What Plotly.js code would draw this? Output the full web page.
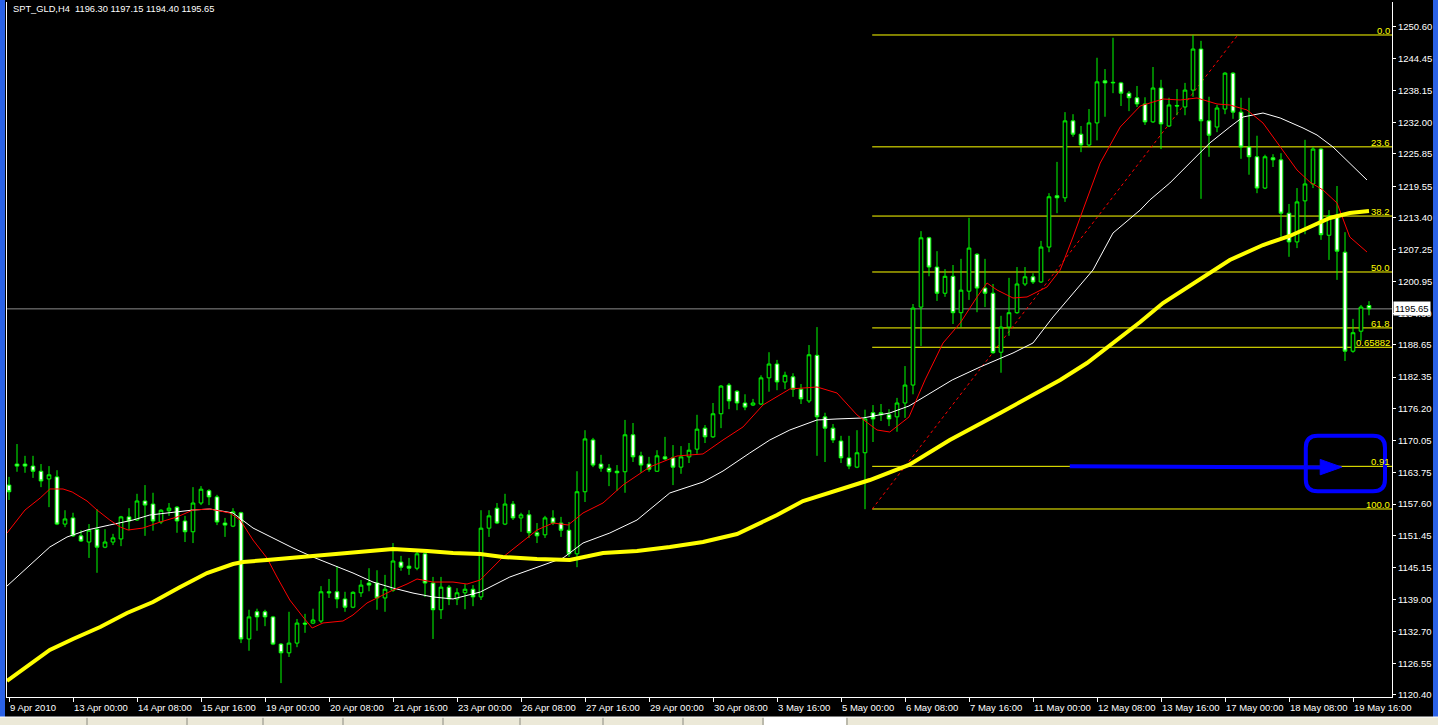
<!DOCTYPE html>
<html><head><meta charset="utf-8">
<script src="https://cdn.plot.ly/plotly-3.0.1.min.js"></script>
<style>html,body{margin:0;padding:0;background:#000;overflow:hidden}#chart{width:1438px;height:725px}</style>
</head><body><div id="chart"></div>
<script>
const headerText = "SPT_GLD,H4&nbsp;&nbsp;1196.30 1197.15 1194.40 1195.65";
const lastPrice = 1195.65;

const openP = [
1161.3,1165.4,1165.4,1165.0,1164.0,1162.5,1162.9,1153.7,1154.9,1151.4,
1150.2,1152.7,1149.2,1150.2,1150.8,1155.1,1154.5,1158.2,1157.6,1154.1,
1156.3,1157.0,1154.3,1152.2,1157.8,1160.2,1159.0,1153.9,1153.3,1155.9,
1131.3,1136.6,1136.6,1135.6,1130.3,1128.6,1130.5,1134.4,1134.4,1134.8,
1140.5,1140.5,1139.1,1137.5,1140.3,1142.2,1142.2,1139.3,1140.8,1146.3,
1145.5,1145.1,1147.9,1142.2,1137.0,1141.4,1139.1,1140.3,1141.0,1139.5,
1152.9,1156.8,1153.7,1157.6,1154.9,1155.5,1152.0,1151.6,1154.9,1153.9,
1152.5,1147.9,1160.0,1170.1,1165.4,1164.6,1164.0,1163.9,1171.1,1167.0,
1165.4,1164.0,1166.8,1166.6,1164.8,1166.8,1168.3,1172.4,1170.7,1175.2,
1180.8,1179.6,1177.3,1176.9,1177.1,1182.2,1184.9,1181.4,1182.4,1180.0,
1177.7,1186.6,1174.6,1172.4,1169.9,1166.6,1164.8,1167.6,1175.4,1175.4,
1175.0,1174.6,1177.3,1180.8,1196.0,1209.5,1203.8,1198.7,1202.0,1194.9,
1199.1,1206.3,1199.7,1198.7,1187.2,1192.1,1194.9,1200.5,1201.9,1200.9,
1207.7,1217.7,1217.3,1232.3,1229.7,1227.6,1231.9,1240.1,1239.7,1239.7,
1237.7,1236.8,1235.6,1232.1,1238.7,1231.3,1235.3,1235.0,1238.3,1246.3,
1232.3,1231.1,1234.6,1241.6,1234.0,1227.2,1225.3,1219.2,1225.1,1224.7,
1214.3,1208.7,1216.7,1220.0,1226.8,1210.0,1213.9,1206.7,1187.4,1191.3,
1196.30];
const highP = [
1162.9,1169.3,1167.0,1167.0,1165.4,1165.0,1164.2,1156.4,1155.9,1152.5,
1153.7,1156.6,1152.7,1151.8,1155.3,1156.8,1159.6,1161.3,1159.8,1156.6,
1157.8,1157.2,1155.3,1160.9,1161.1,1160.5,1159.4,1154.9,1156.8,1156.1,
1137.0,1137.2,1137.0,1135.8,1130.5,1136.6,1135.2,1136.2,1137.2,1141.6,
1143.0,1145.5,1140.5,1140.6,1142.8,1145.1,1144.7,1143.8,1150.0,1147.5,
1147.1,1148.5,1148.5,1143.4,1143.4,1141.8,1141.2,1142.0,1141.8,1156.4,
1156.4,1157.8,1159.6,1158.2,1155.9,1156.4,1153.9,1155.3,1156.4,1155.1,
1154.1,1164.0,1172.0,1170.5,1167.2,1165.4,1165.2,1174.0,1173.4,1167.8,
1166.8,1168.1,1170.7,1169.1,1168.9,1169.5,1175.0,1173.0,1177.3,1180.8,
1181.2,1179.8,1179.0,1178.1,1182.7,1187.2,1185.7,1183.4,1183.1,1181.0,
1188.6,1192.1,1175.4,1173.2,1170.9,1170.9,1172.0,1176.0,1176.9,1177.1,
1176.1,1178.3,1184.5,1196.6,1210.8,1209.7,1206.9,1203.4,1204.2,1205.4,
1213.4,1206.5,1205.4,1200.5,1194.3,1201.7,1203.8,1203.8,1202.6,1208.9,
1218.2,1224.3,1234.0,1233.6,1231.3,1234.6,1244.6,1242.4,1248.5,1239.9,
1238.1,1239.1,1236.9,1242.8,1240.3,1236.8,1238.5,1239.7,1249.0,1247.9,
1237.0,1235.4,1241.8,1241.8,1236.8,1236.8,1229.4,1225.7,1225.8,1226.0,
1216.1,1219.2,1228.6,1227.2,1227.0,1214.9,1219.6,1210.6,1193.7,1196.4,
1197.15];
const lowP = [
1158.4,1163.9,1163.7,1162.7,1160.9,1157.0,1153.5,1153.1,1151.2,1150.2,
1147.1,1144.2,1149.0,1149.6,1149.4,1152.5,1154.3,1151.4,1152.4,1153.7,
1155.3,1152.0,1150.2,1150.0,1157.4,1157.4,1153.5,1151.2,1153.1,1130.5,
1129.0,1132.9,1133.8,1130.1,1122.7,1127.8,1129.7,1132.5,1134.2,1134.4,
1139.3,1137.3,1136.6,1137.3,1139.5,1140.6,1137.0,1136.6,1140.5,1144.6,
1143.8,1144.7,1139.5,1131.3,1135.2,1137.9,1137.9,1137.1,1137.7,1138.9,
1151.2,1153.7,1153.5,1154.5,1152.2,1151.0,1150.0,1151.0,1153.5,1151.2,
1147.3,1145.3,1158.0,1164.8,1163.9,1161.1,1160.2,1159.8,1165.8,1163.7,
1163.9,1163.9,1166.2,1161.3,1163.5,1165.6,1167.4,1169.5,1170.5,1172.4,
1176.1,1175.9,1175.9,1176.7,1176.9,1179.5,1179.8,1180.0,1178.5,1177.1,
1177.3,1167.0,1165.8,1169.5,1165.6,1164.4,1164.6,1156.6,1169.7,1173.8,
1172.8,1171.7,1174.4,1179.0,1188.4,1202.0,1197.2,1198.0,1192.7,1192.1,
1197.4,1195.0,1196.0,1186.9,1183.2,1190.4,1194.7,1200.1,1200.5,1200.7,
1206.7,1214.3,1216.5,1229.2,1226.2,1227.2,1228.5,1233.1,1237.7,1235.2,
1234.2,1235.0,1231.5,1231.9,1226.8,1231.1,1233.4,1233.4,1237.0,1217.1,
1225.3,1230.1,1233.6,1232.7,1224.9,1221.8,1218.2,1219.0,1223.3,1209.7,
1205.8,1207.5,1210.2,1219.2,1209.1,1205.2,1201.3,1185.5,1187.1,1189.4,
1194.40];
const closeP = [
1160.0,1165.0,1165.0,1164.0,1162.1,1163.3,1153.7,1154.7,1151.4,1150.4,
1152.5,1149.2,1150.2,1151.0,1155.1,1154.3,1158.2,1157.4,1154.3,1156.4,
1156.8,1154.3,1152.2,1157.8,1160.5,1159.0,1154.1,1153.5,1156.1,1131.3,
1135.6,1135.6,1135.6,1130.3,1128.6,1130.5,1134.4,1134.2,1135.0,1140.5,
1140.3,1139.1,1137.5,1140.4,1141.8,1141.8,1139.3,1141.0,1146.5,1145.3,
1145.1,1147.9,1142.2,1137.0,1141.4,1139.1,1140.3,1141.0,1139.5,1152.9,
1155.3,1153.9,1157.6,1154.9,1155.5,1152.0,1151.4,1154.9,1153.9,1152.5,
1147.9,1160.0,1170.3,1165.2,1164.6,1163.9,1163.7,1171.1,1166.8,1165.2,
1164.4,1167.0,1166.4,1164.8,1166.8,1168.1,1172.2,1170.7,1175.2,1180.6,
1177.7,1177.3,1176.5,1177.3,1182.2,1184.9,1181.4,1182.7,1180.0,1178.1,
1186.7,1174.6,1172.4,1170.1,1166.6,1165.0,1167.6,1174.2,1174.2,1175.0,
1174.2,1177.3,1180.8,1195.8,1209.5,1203.8,1198.7,1202.0,1194.9,1199.3,
1207.5,1199.7,1198.7,1187.1,1192.1,1194.9,1200.5,1201.9,1200.9,1207.7,
1217.5,1217.3,1232.3,1229.7,1227.6,1231.9,1239.9,1239.7,1239.8,1237.7,
1236.8,1235.6,1232.1,1238.7,1231.7,1235.4,1235.2,1238.3,1246.3,1232.3,
1229.5,1234.8,1241.6,1234.0,1227.2,1225.3,1219.2,1225.3,1224.7,1214.3,
1208.7,1216.5,1220.0,1226.8,1210.1,1213.8,1206.9,1187.4,1191.0,1196.0,
1195.65];

// moving averages (bar position, price)
const redMaBar = [-0.25,2,3.9,5.1,6.75,7.9,9.75,11,12.6,13.9,14.9,16.75,18.9,21,23,25.1,27.6,28.9,30.5,32.25,33.5,35.1,36.75,37.9,39.25,41.75,43,44.75,46,48,49.75,51,53,55.5,57.25,58.9,61.75,63.9,66,68,69.9,71.75,74.25,76.75,80.1,83.5,86.75,89.25,91.75,94.25,96,97.6,101,103.5,106,108.5,110.1,112.5,114.5,116.75,118.9,121,122.25,123.5,125.5,127.25,129.75,131.4,133,134.75,136.4,138.9,141.4,144.25,146.4,148.5,151,152.6,154.75,156.75,158.9,161,162.6,164.25,166,167.6,169.75];
const redMaVal = [1151.95,1156.44,1158.78,1160.54,1160.54,1159.95,1158.2,1156.44,1154.49,1153.13,1152.54,1152.93,1154.1,1155.08,1156.44,1156.64,1155.86,1154.49,1150.59,1147.08,1143.38,1138.9,1135.59,1133.44,1134.42,1134.81,1135.98,1138.32,1139.29,1140.84,1142.01,1142.99,1142.4,1142.4,1142.01,1142.79,1147.27,1150.01,1152.54,1153.91,1153.52,1155.86,1157.81,1161.31,1164.83,1166.97,1167.37,1170.09,1172.63,1176.92,1178.47,1180.03,1180.42,1179.25,1174.97,1172.04,1171.65,1174.58,1181.79,1188.99,1192.89,1197.97,1200.7,1199.33,1197.77,1197.97,1199.92,1203.23,1209.66,1216.87,1224.08,1231.1,1235.2,1236.56,1236.37,1236.76,1235.59,1235.39,1234.42,1231.88,1227.21,1222.72,1220.38,1218.82,1216.29,1209.66,1206.73];
const whiteMaBar = [-0.25,1.4,3,5.1,7.25,9.75,12.6,15.5,17.6,20.5,23,25.1,28,30.5,33,35.5,38,40.5,43,45.5,48,50.5,53,55.5,58.9,62.6,66,69.25,71.75,75.1,78.5,82.6,86.75,89.25,92.6,95.1,97.6,101,103.5,106.75,110.1,112.5,117.9,121.4,125.5,128,130.5,133,135.5,138,141.4,142.6,145.1,147.6,150.1,152.6,154.25,156.75,158.9,161.75,163.5,165.5,167.6,169.75];
const whiteMaVal = [1141.62,1143.97,1146.3,1149.23,1151.18,1152.54,1153.52,1154.49,1155.47,1156.05,1156.44,1156.64,1155.86,1152.93,1150.98,1149.03,1147.27,1145.72,1144.16,1142.4,1141.23,1140.25,1139.49,1139.1,1140.45,1143.38,1145.33,1147.08,1150.01,1151.96,1154.49,1159.76,1161.9,1164.04,1167.56,1170.09,1172.04,1173.99,1174.19,1174.38,1175.36,1176.72,1181.79,1184.33,1187.05,1189.0,1194.07,1198.73,1203.23,1210.44,1214.92,1216.87,1220.18,1224.08,1227.99,1231.1,1233.05,1233.83,1232.86,1230.91,1229.54,1227.21,1224.08,1220.77];
const yellowMaBar = [-0.25,2.25,5.1,8,11.4,14.75,18,21.4,24.75,28,29.25,32.25,36.4,40.5,44.75,48,52.25,55.5,58.9,61.75,66,70.1,74.25,78.5,82.6,86.75,91,93.5,96,99.25,103.5,107.6,112.5,117.6,123.9,131.4,134.75,138,141.4,144.25,148.5,152.6,156.75,160.1,162.6,165.1,167.6,170];
const yellowMaVal = [1123.11,1125.84,1129.16,1131.3,1133.64,1136.37,1138.51,1141.43,1144.16,1145.91,1146.3,1146.69,1147.27,1147.66,1148.25,1148.83,1148.45,1148.06,1147.86,1147.27,1146.89,1146.69,1148.06,1148.45,1149.23,1150.2,1151.76,1153.52,1155.47,1158.2,1160.35,1162.29,1165.22,1170.09,1175.36,1181.79,1185.1,1189.0,1193.09,1196.79,1201.08,1205.18,1208.1,1209.86,1211.61,1213.36,1214.34,1214.73];

// Fibonacci retracement anchors
const fibStartBar = 107.9, fibEndBar = 153.6;
const fibLow = 1156.64, fibHigh = 1249.04;
const fibLevels = [0, 23.6, 38.2, 50.0, 61.8, 65.882, 91, 100];
const fibLabels = ["0.0","23.6","38.2","50.0","61.8","0.65882","0.91","100.0"];

const xTickBars = [0,8,16,24,32,40,48,56,64,72,80,88,96,104,112,120,128,136,144,152,160,168];
const xTickLabels = ["9 Apr 2010","13 Apr 00:00","14 Apr 08:00","15 Apr 16:00","19 Apr 00:00","20 Apr 08:00","21 Apr 16:00","23 Apr 00:00","26 Apr 08:00","27 Apr 16:00","29 Apr 00:00","30 Apr 08:00","3 May 16:00","5 May 00:00","6 May 08:00","7 May 16:00","11 May 00:00","12 May 08:00","13 May 16:00","17 May 00:00","18 May 08:00","19 May 16:00"];
const yTickVals = [1250.60,1244.45,1238.15,1232.00,1225.85,1219.55,1213.40,1207.25,1200.95,1194.80,1188.65,1182.35,1176.20,1170.05,1163.75,1157.60,1151.45,1145.15,1139.00,1132.70,1126.55,1120.40];

const bars = openP.map((_, i) => i);
const FONT = "Liberation Sans, Arial, sans-serif";
const FS = 9.5;
const X_RANGE = [-0.25, 172.875];

const traces = [
  {type:'scatter', mode:'lines', x:whiteMaBar, y:whiteMaVal, line:{color:'#ffffff', width:1}, hoverinfo:'skip'},
  {type:'scatter', mode:'lines', x:redMaBar, y:redMaVal, line:{color:'#ff0000', width:1}, hoverinfo:'skip'},
  {type:'scatter', mode:'lines', x:yellowMaBar, y:yellowMaVal, line:{color:'#ffff00', width:4}, hoverinfo:'skip'},
  {type:'candlestick', x:bars, open:openP, high:highP, low:lowP, close:closeP,
   increasing:{line:{color:'#00ff00', width:1}, fillcolor:'#000000'},
   decreasing:{line:{color:'#00ff00', width:1}, fillcolor:'#ffffff'},
   whiskerwidth:0, hoverinfo:'skip'}
];

const shapes = [];
const annotations = [];
const fibRange = fibHigh - fibLow;
fibLevels.forEach((lv, k) => {
  const price = fibHigh - fibRange * lv / 100;
  shapes.push({type:'line', xref:'x', yref:'y', x0:fibStartBar, x1:X_RANGE[1], y0:price, y1:price,
    line:{color:'#ffff00', width:1}, layer:'below'});
  annotations.push({xref:'paper', yref:'y', x:1, y:price, xanchor:'right', yanchor:'bottom',
    text:fibLabels[k], showarrow:false, font:{family:FONT, size:FS, color:'#ffff00'}, xshift:-1, yshift:-2, borderpad:0});
});
shapes.push({type:'line', xref:'x', yref:'y', x0:fibStartBar, x1:fibEndBar, y0:fibLow, y1:fibHigh,
  line:{color:'#ff0000', width:1, dash:'dot'}, layer:'below'});
shapes.push({type:'line', xref:'paper', yref:'y', x0:0, x1:1, y0:lastPrice, y1:lastPrice,
  line:{color:'#8c8c8c', width:1}, layer:'below'});
shapes.push({type:'line', xref:'x', yref:'y', x0:132.6, x1:164.3, y0:1164.95, y1:1164.75,
  line:{color:'#0000ff', width:4}});
shapes.push({type:'path', xref:'x', yref:'y', path:'M 163.9,1166.3 L 166.6,1164.8 L 163.9,1163.3 Z',
  fillcolor:'#0000ff', line:{color:'#0000ff', width:1}});
shapes.push({type:'path', xref:'x', yref:'y',
  path:'M 163.6,1170.9 L 170.5,1170.9 Q 172.0,1170.9 172.0,1168.6 L 172.0,1162.4 Q 172.0,1160.1 170.5,1160.1 L 163.6,1160.1 Q 162.1,1160.1 162.1,1162.4 L 162.1,1168.6 Q 162.1,1170.9 163.6,1170.9 Z',
  line:{color:'#0000ff', width:4}});
// window chrome
shapes.push({type:'rect', xref:'paper', yref:'paper', x0:-0.00506, x1:-0.00144, y0:-0.0288, y1:1.003, fillcolor:'#2b62e6', line:{width:0}});
shapes.push({type:'rect', xref:'paper', yref:'paper', x0:1.0296, x1:1.0333, y0:-0.0288, y1:1.003, fillcolor:'#2b62e6', line:{width:0}});
shapes.push({type:'rect', xref:'paper', yref:'paper', x0:-0.00506, x1:1.0333, y0:-0.0404, y1:-0.0288, fillcolor:'#ece9d8', line:{width:0}});
shapes.push({type:'line', xref:'paper', yref:'paper', x0:-0.00506, x1:1.0333, y0:-0.0288, y1:-0.0288, line:{color:'#ffffff', width:1}});
const tabSeps = [87, 187, 263, 343, 443, 520, 603, 683, 763, 847];
tabSeps.forEach(px => {
  const xp = (px - 7) / 1385;
  shapes.push({type:'line', xref:'paper', yref:'paper', x0:xp, x1:xp, y0:-0.0404, y1:-0.0300, line:{color:'#8a8a80', width:1}});
});
shapes.push({type:'rect', xref:'paper', yref:'paper', x0:(764-7)/1385, x1:(846-7)/1385, y0:-0.0404, y1:-0.0288, fillcolor:'#ffffff', line:{width:0}});

annotations.push({xref:'paper', yref:'paper', x:(11-7)/1385, y:(697-9)/695, xanchor:'left', yanchor:'middle',
  text:headerText, showarrow:false, font:{family:FONT, size:9.3, color:'#ffffff'}});
annotations.push({xref:'paper', yref:'y', x:1, y:lastPrice, xanchor:'left', yanchor:'middle', xshift:1,
  text:lastPrice.toFixed(2), showarrow:false, bgcolor:'#ffffff', borderpad:1,
  font:{family:FONT, size:FS, color:'#000000'}});

const layout = {
  width:1438, height:725,
  margin:{l:7, r:46, t:2, b:28, pad:0},
  paper_bgcolor:'#000000', plot_bgcolor:'#000000',
  showlegend:false, hovermode:false, boxgap:0.35,
  xaxis:{range:X_RANGE, showgrid:false, zeroline:false, rangeslider:{visible:false},
    tickmode:'array', tickvals:xTickBars, ticktext:xTickLabels, ticks:'outside', ticklen:4, tickcolor:'#ffffff',
    tickangle:0, ticklabelposition:'outside right', ticklabelstandoff:2, tickfont:{family:FONT, size:FS, color:'#ffffff'},
    showline:true, linecolor:'#ffffff', linewidth:1, fixedrange:true},
  yaxis:{range:[1119.99, 1255.47], side:'right', showgrid:false, zeroline:false,
    tickmode:'array', tickvals:yTickVals, tickformat:'.2f', ticks:'outside', ticklen:3, tickcolor:'#ffffff',
    tickfont:{family:FONT, size:FS, color:'#ffffff'},
    showline:true, linecolor:'#ffffff', linewidth:1, mirror:true, fixedrange:true},
  shapes:shapes, annotations:annotations
};
Plotly.newPlot('chart', traces, layout, {displayModeBar:false, staticPlot:true});
</script>
</body></html>
